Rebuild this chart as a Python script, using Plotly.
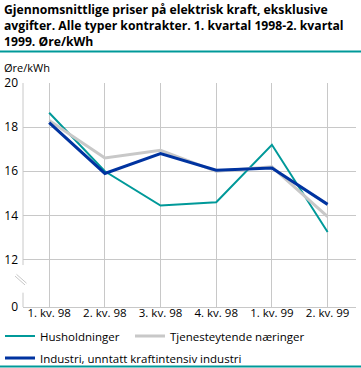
import plotly.graph_objects as go

# ---- data ----
categories = ["1. kv. 98", "2. kv. 98", "3. kv. 98", "4. kv. 98", "1. kv. 99", "2. kv. 99"]
husholdninger = [18.65, 16.0, 14.45, 14.6, 17.2, 13.25]
tjenesteytende = [18.3, 16.6, 16.95, 16.0, 16.2, 13.95]
industri = [18.2, 15.9, 16.8, 16.05, 16.15, 14.5]
y_ticks = [12, 14, 16, 18, 20]
y_tick_text = ["12", "14", "16", "18", "20"]

series_names = ["Husholdninger", "Tjenesteytende næringer", "Industri, unntatt kraftintensiv industri"]
series_values = [husholdninger, tjenesteytende, industri]
series_colors = ["#009999", "#c8c8c8", "#0033a0"]
series_widths = [2, 3, 3]
series_legends = ["legend", "legend2", "legend3"]

ZERO_POS = 9.85  # position where the broken axis shows "0"

FONT = "Open Sans"
W, H = 361, 368
ML, MR, MT, MB = 23, 5, 83, 61
PW, PH = W - ML - MR, H - MT - MB


def px_x(px):
    return (px - ML) / PW


def px_y(py):
    return (H - MB - py) / PH


fig = go.Figure()
for name, vals, col, w, lg in zip(series_names, series_values, series_colors, series_widths, series_legends):
    fig.add_trace(go.Scatter(x=categories, y=vals, mode="lines", name=name, legend=lg,
                             line=dict(color=col, width=w)))

grid = "#c8c8c8"
shapes = [
    # left axis (broken)
    dict(type="line", xref="paper", yref="y", x0=0, x1=0, y0=20, y1=11.75, line=dict(color=grid, width=1)),
    dict(type="line", xref="paper", yref="y", x0=0, x1=0, y0=10.5, y1=ZERO_POS, line=dict(color=grid, width=1)),
    # break marks
    dict(type="line", xref="paper", yref="y", x0=px_x(15), x1=px_x(25), y0=11.25, y1=10.85, line=dict(color=grid, width=1)),
    dict(type="line", xref="paper", yref="y", x0=px_x(16.5), x1=px_x(26.5), y0=11.33, y1=10.93, line=dict(color=grid, width=1)),
    # teal separators
    dict(type="line", xref="paper", yref="paper", x0=px_x(0), x1=px_x(W), y0=px_y(51.5), y1=px_y(51.5),
         line=dict(color="#009999", width=2)),
    dict(type="line", xref="paper", yref="paper", x0=px_x(0), x1=px_x(W), y0=px_y(366.5), y1=px_y(366.5),
         line=dict(color="#009999", width=2)),
]

title_text = ("<b>Gjennomsnittlige priser på elektrisk kraft, eksklusive<br>"
              "avgifter. Alle typer kontrakter. 1. kvartal 1998-2. kvartal<br>"
              "1999. Øre/kWh</b>")
annotations = [
    dict(text=title_text, xref="paper", yref="paper", x=px_x(3), y=px_y(0), xanchor="left", yanchor="top",
         align="left", showarrow=False, borderpad=0,
         font=dict(family=FONT, size=12.2, color="#000000")),
    dict(text="Øre/kWh", xref="paper", yref="paper", x=px_x(2), y=px_y(68),
         xanchor="left", yanchor="middle", showarrow=False,
         font=dict(family=FONT, size=11, color="#000000")),
]


def legend_at(text_left_px, center_py):
    return dict(xref="container", yref="container", x=(text_left_px - 45) / W, xanchor="left",
                y=1 - center_py / H, yanchor="middle", orientation="h",
                font=dict(family=FONT, size=11.5, color="#000000"),
                bgcolor="rgba(0,0,0,0)", borderwidth=0)


fig.update_layout(
    width=W, height=H,
    margin=dict(l=ML, r=MR, t=MT, b=MB, pad=0, autoexpand=False),
    paper_bgcolor="white", plot_bgcolor="white",
    font=dict(family=FONT, size=11.5, color="#000000"),
    shapes=shapes, annotations=annotations,
    showlegend=True,
    legend=legend_at(40, 336),
    legend2=legend_at(175, 336),
    legend3=legend_at(40, 358),
    xaxis=dict(type="category", range=[-0.47, 5.51], showgrid=True, gridcolor=grid, gridwidth=1,
               showline=True, linecolor=grid, linewidth=1, ticks="", zeroline=False, automargin=False,
               ticklabelstandoff=-5,
               tickfont=dict(family=FONT, size=11.5, color="#000000"), fixedrange=True),
    yaxis=dict(range=[ZERO_POS, 20], tickvals=[ZERO_POS] + y_ticks, ticktext=["0"] + y_tick_text,
               showgrid=True, gridcolor=grid, gridwidth=1, showline=False, zeroline=False, ticks="",
               ticklabelstandoff=4, automargin=False,
               tickfont=dict(family=FONT, size=12, color="#000000"), fixedrange=True),
)

fig.write_html("out.html", config={"displayModeBar": False},
               post_script="document.body.style.margin='0';document.body.style.overflow='hidden';")
